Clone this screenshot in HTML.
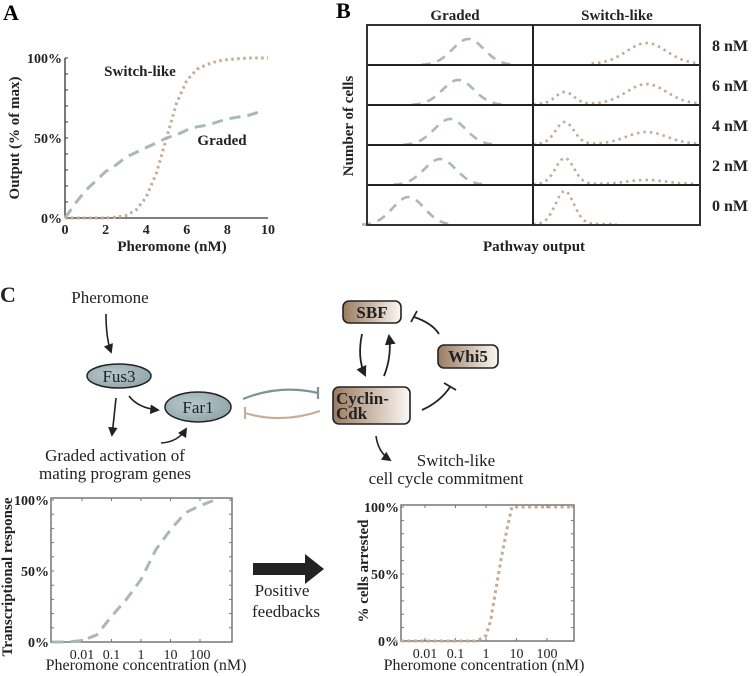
<!DOCTYPE html>
<html><head><meta charset="utf-8"><style>
html,body{margin:0;padding:0;background:#fff;}
svg{display:block;font-family:"Liberation Serif",serif;}
</style></head><body>
<svg id="fig" width="754" height="676" viewBox="0 0 754 676" xmlns="http://www.w3.org/2000/svg">
<defs>
<linearGradient id="brown" x1="0" x2="1" y1="0" y2="0"><stop offset="0" stop-color="#9b7b5f"/><stop offset="1" stop-color="#fbf8f4"/></linearGradient>
<radialGradient id="blue" cx="0.4" cy="0.4" r="0.7"><stop offset="0" stop-color="#b8c8cc"/><stop offset="1" stop-color="#8ea3a8"/></radialGradient>
<marker id="ah" viewBox="0 0 10 10" refX="8" refY="5" markerWidth="6" markerHeight="6" orient="auto"><path d="M0,0 L10,5 L0,10 z" fill="#222"/></marker>
</defs>

<!-- Panel A -->
<g>
<text x="3" y="20" font-size="22" font-weight="bold">A</text>
<g id="aAxes"></g>
<text x="140" y="76" font-size="15" font-weight="bold" text-anchor="middle" fill="#222">Switch-like</text>
<text x="222" y="145" font-size="15" font-weight="bold" text-anchor="middle" fill="#222">Graded</text>
<text x="172" y="251" font-size="15" font-weight="bold" text-anchor="middle" fill="#222">Pheromone (nM)</text>
<text transform="translate(19,138) rotate(-90)" font-size="15" font-weight="bold" text-anchor="middle" fill="#222">Output (% of max)</text>
</g>

<!-- Panel B -->
<g>
<text x="336" y="18" font-size="22" font-weight="bold">B</text>
<text x="455" y="20" font-size="15" font-weight="bold" text-anchor="middle" fill="#222">Graded</text>
<text x="617" y="20" font-size="15" font-weight="bold" text-anchor="middle" fill="#222">Switch-like</text>
<g id="bPlot"></g>
<text x="534" y="251" font-size="15" font-weight="bold" text-anchor="middle" fill="#222">Pathway output</text>
<text transform="translate(353,126) rotate(-90)" font-size="15" font-weight="bold" text-anchor="middle" fill="#222">Number of cells</text>
</g>

<!-- Panel C diagram -->
<g font-size="17" fill="#222">
<text x="0" y="302" font-size="22" font-weight="bold">C</text>
<text x="110" y="303" text-anchor="middle">Pheromone</text>
<path d="M106,314 Q106,338 111,352" fill="none" stroke="#222" stroke-width="1.6" marker-end="url(#ah)"/>
<ellipse cx="119" cy="376" rx="32" ry="12" fill="url(#blue)" stroke="#222" stroke-width="1.5"/>
<text x="119" y="382" text-anchor="middle">Fus3</text>
<ellipse cx="198" cy="407" rx="33" ry="15" fill="url(#blue)" stroke="#222" stroke-width="1.5"/>
<text x="198" y="413" text-anchor="middle">Far1</text>
<path d="M129,396 Q138,408 158,410" fill="none" stroke="#222" stroke-width="1.6" marker-end="url(#ah)"/>
<path d="M116,398 Q114,418 112,435" fill="none" stroke="#222" stroke-width="1.6" marker-end="url(#ah)"/>
<path d="M161,443 Q178,442 186,429" fill="none" stroke="#222" stroke-width="1.6" marker-end="url(#ah)"/>
<text x="115" y="461" text-anchor="middle">Graded activation of</text>
<text x="115" y="479" text-anchor="middle">mating program genes</text>
<path d="M243,399 Q280,384 318,393" fill="none" stroke="#7f9297" stroke-width="2.2"/>
<line x1="318" y1="387" x2="318" y2="399" stroke="#7f9297" stroke-width="2.2"/>
<path d="M320,411 Q282,424 245,413" fill="none" stroke="#c8ad92" stroke-width="2.2"/>
<line x1="245" y1="407" x2="245" y2="419" stroke="#c8ad92" stroke-width="2.2"/>
<rect x="343" y="301" width="58" height="22" rx="6" fill="url(#brown)" stroke="#222" stroke-width="1.6"/>
<text x="372" y="318" text-anchor="middle" font-weight="bold">SBF</text>
<rect x="438" y="345" width="60" height="23" rx="6" fill="url(#brown)" stroke="#222" stroke-width="1.6"/>
<text x="468" y="362" text-anchor="middle" font-weight="bold">Whi5</text>
<rect x="333" y="387" width="77" height="37" rx="6" fill="url(#brown)" stroke="#222" stroke-width="1.6"/>
<text x="336" y="404" font-weight="bold" font-size="17">Cyclin-</text>
<text x="336" y="419" font-weight="bold" font-size="17">Cdk</text>
<path d="M362,334 Q357,358 365,375" fill="none" stroke="#222" stroke-width="1.8" marker-end="url(#ah)"/>
<path d="M384,376 Q392,356 389,336" fill="none" stroke="#222" stroke-width="1.8" marker-end="url(#ah)"/>
<path d="M439,334 Q432,323 414,317" fill="none" stroke="#222" stroke-width="1.8"/>
<line x1="411" y1="322" x2="417" y2="311" stroke="#222" stroke-width="1.8"/>
<path d="M422,410 Q440,402 450,387" fill="none" stroke="#222" stroke-width="1.8"/>
<line x1="444" y1="383" x2="456" y2="390" stroke="#222" stroke-width="1.8"/>
<path d="M376,436 Q378,452 390,460" fill="none" stroke="#222" stroke-width="1.6" marker-end="url(#ah)"/>
<text x="456" y="466" text-anchor="middle">Switch-like</text>
<text x="446" y="484" text-anchor="middle">cell cycle commitment</text>
<path d="M253,563 L305,563 L305,554 L324,569 L305,584 L305,575 L253,575 z" fill="#222"/>
<text x="282" y="596" text-anchor="middle" font-size="17">Positive</text>
<text x="286" y="617" text-anchor="middle" font-size="17">feedbacks</text>
</g>

<g id="cLeft"></g>
<g id="cRight"></g>
<text transform="translate(12,577) rotate(-90)" font-size="15" font-weight="bold" text-anchor="middle" fill="#222">Transcriptional response</text>
<text x="146" y="670" font-size="16" text-anchor="middle" fill="#222">Pheromone concentration (nM)</text>
<text transform="translate(368,571) rotate(-90)" font-size="15" font-weight="bold" text-anchor="middle" fill="#222">% cells arrested</text>
<text x="484" y="670" font-size="16" text-anchor="middle" fill="#222">Pheromone concentration (nM)</text>
</svg>
<script>
// ---- Panel A data ----
const aX = [0,0.5,1,1.5,2,2.5,3,3.5,4,4.5,5,5.5,6,6.5,7,7.5,8,8.5,9,9.5];
const aGraded = [0,9,17,23,29,33,38,41,44,47,50,52,55,57,58,60,62,63,64,66];
const aSwitchX = [0,1,2,2.5,3,3.5,4,4.5,5,5.5,6,6.5,7,7.5,8,8.5,9,9.5,10];
const aSwitch = [0,0,0,0.5,1.5,5,13,28,50,72,86,93,96,98,99,99.5,100,100,100];
const aXTicks = [0,2,4,6,8,10];
const aYTicks = [0,50,100];
const aYTickLabels = ["0%","50%","100%"];
// ---- Panel B data ----
const bConc = ["8 nM","6 nM","4 nM","2 nM","0 nM"];
const bGradedPeak = [61,55,50,44,25];
const bGradedAmp = [26,25,26,26,28];
const bSwitchLowAmp = [0,12,22,26,33];
const bSwitchHighAmp = [21,20,12,4,0];
const bSwitchLowPos = 19;
const bSwitchHighPos = 68;
// ---- Panel C data ----
const cLogConc = [-3,-2.5,-2,-1.5,-1,-0.5,0,0.5,1,1.5,2,2.5];
const cTranscription = [0,0,1,5,18,30,44,65,79,91,96,100];
const cArrestLog = [-3,-1,-0.3,0,0.15,0.3,0.5,0.7,0.85,1,2,2.85];
const cArrest = [0,0,0,4,15,35,62,85,100,100,100,100];
const cTickLabels = ["0.01","0.1","1","10","100"];
const cTickLogs = [-2,-1,0,1,2];

const NS="http://www.w3.org/2000/svg";
function mk(tag,attrs,parent){const e=document.createElementNS(NS,tag);for(const k in attrs)e.setAttribute(k,attrs[k]);parent.appendChild(e);return e;}
function pathD(xs,ys,fx,fy){return xs.map((v,i)=>(i?'L':'M')+fx(v).toFixed(1)+','+fy(ys[i]).toFixed(1)).join(' ');}

// Panel A
(function(){
 const g=document.getElementById('aAxes');
 const fx=v=>65+v*20.3, fy=v=>218-v*1.6;
 let e=mk('line',{x1:65,y1:fy(100),x2:65,y2:218,stroke:'#333','stroke-width':1.3},g);
 
 
 e=mk('line',{x1:65,y1:218,x2:fx(10),y2:218,stroke:'#333','stroke-width':1.3},g);
 
 
 for(let v=0;v<=100;v+=10) mk('line',{x1:65,y1:fy(v),x2:68,y2:fy(v),stroke:'#333','stroke-width':1},g);
 aXTicks.forEach(t=>{const tx=mk('text',{x:fx(t),y:234,'font-size':14,'font-weight':'bold','text-anchor':'middle',fill:'#222'},g);tx.textContent=t;
  
  });
 aYTicks.forEach((t,i)=>{const tx=mk('text',{x:62,y:fy(t)+5,'font-size':14,'font-weight':'bold','text-anchor':'end',fill:'#222'},g);tx.textContent=aYTickLabels[i];
  
  });
 e=mk('path',{d:pathD(aX,aGraded,fx,fy),fill:'none',stroke:'#a9b9bb','stroke-width':3,'stroke-dasharray':'11,7'},g);
 
 
 e=mk('path',{d:pathD(aSwitchX,aSwitch,fx,fy),fill:'none',stroke:'#c4ab94','stroke-width':3,'stroke-dasharray':'2.5,3.5'},g);
 
 
})();

// Panel B
(function(){
 const g=document.getElementById('bPlot');
 const L=367,R=700,M=533,T=25,B=225,rowH=40;
 const gx=v=>L+v*(M-L)/100, sx=v=>M+v*(R-M)/100;
 bConc.forEach((c,i)=>{
  const base=T+rowH*(i+1);
  const xs=[],ys=[];
  for(let k=-28;k<=28;k+=1){xs.push(bGradedPeak[i]+k);ys.push(bGradedAmp[i]*Math.exp(-(k*k)/(2*9.5*9.5)));}
  let p=mk('path',{d:pathD(xs,ys,gx,v=>base-v),fill:'none',stroke:'#a9b9bb','stroke-width':2.6,'stroke-dasharray':'9,7'},g);
  
  
  const xs2=[],ys2=[];
  for(let v=(i==0?35:0);v<=(i==4?50:98);v+=1){
   const a=bSwitchLowAmp[i]*Math.exp(-((v-bSwitchLowPos)**2)/(2*5.5*5.5));
   const b=bSwitchHighAmp[i]*Math.exp(-((v-bSwitchHighPos)**2)/(2*12*12));
   xs2.push(v);ys2.push(a+b);}
  p=mk('path',{d:pathD(xs2,ys2,sx,v=>base-1-v),fill:'none',stroke:'#c4ab94','stroke-width':2.6,'stroke-dasharray':'2.5,4'},g);
  
  
  const t=mk('text',{x:712,y:base-14,'font-size':16,'font-weight':'bold',fill:'#222'},g);t.textContent=c;
  
  
  if(i<4) mk('line',{x1:L,y1:base,x2:R,y2:base,stroke:'#222','stroke-width':2},g);
 });
 let r=mk('rect',{x:L,y:T,width:R-L,height:B-T,fill:'none',stroke:'#333','stroke-width':2},g);
 
 
 mk('line',{x1:M,y1:T,x2:M,y2:B,stroke:'#222','stroke-width':2},g);
})();

// Panel C plots
function logPlot(gid,x0,x1,y0,y1,xs,ys,color,dash,ctr,dec,name){
 const g=document.getElementById(gid);
 const fx=v=>ctr+v*dec, fy=v=>y1-(v/100)*(y1-y0-2);
 const r=mk('rect',{x:x0,y:y0,width:x1-x0,height:y1-y0,fill:'none',stroke:'#777','stroke-width':1.5},g);
 
 
 for(let v=0;v<=100;v+=10){mk('line',{x1:x0,y1:fy(v),x2:x0+3,y2:fy(v),stroke:'#777'},g);mk('line',{x1:x1-3,y1:fy(v),x2:x1,y2:fy(v),stroke:'#777'},g);}
 cTickLogs.forEach((l,i)=>{mk('line',{x1:fx(l),y1:y1,x2:fx(l),y2:y1-3,stroke:'#777'},g);mk('line',{x1:fx(l),y1:y0,x2:fx(l),y2:y0+3,stroke:'#777'},g);
  const t=mk('text',{x:fx(l),y:y1+17,'font-size':14,'text-anchor':'middle',fill:'#222'},g);t.textContent=cTickLabels[i];
  
  });
 ["0%","50%","100%"].forEach((s,i)=>{const t=mk('text',{x:x0-2,y:fy(i*50)+5,'font-size':14,'font-weight':'bold','text-anchor':'end',fill:'#222'},g);t.textContent=s;
  
  });
 const p=mk('path',{d:pathD(xs,ys,fx,fy),fill:'none',stroke:color,'stroke-width':3,'stroke-dasharray':dash},g);
 
 
}
logPlot('cLeft',51,232,498,642,cLogConc,cTranscription,'#a9b9bb','11,7',141,29.5,'transcription');
logPlot('cRight',401,574,505,641,cArrestLog,cArrest,'#c4ab94','3,3.5',486,30.5,'arrest');
</script>
</body></html>
